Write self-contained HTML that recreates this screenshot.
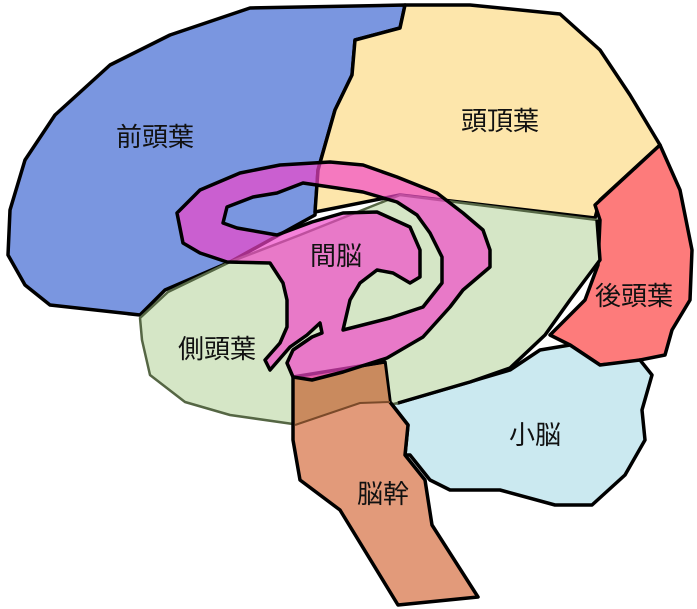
<!DOCTYPE html>
<html><head><meta charset="utf-8"><style>
html,body{margin:0;padding:0;background:#fff;}
svg{display:block;}
text{font-family:"Liberation Sans","Noto Sans CJK JP",sans-serif;font-size:26px;fill:#111;text-anchor:middle;}
</style></head><body>
<svg width="697" height="609" viewBox="0 0 697 609">
<g stroke="#000" stroke-width="3.5" stroke-linejoin="round">
<polygon fill="#7a96e0" points="405,5 250,8 170,35 110,65 55,115 25,160 10,210 8,255 25,285 50,305 140,315 165,290 230,262 315,215 318,170 335,110 352,75 355,40 400,28"/>
<polygon fill="#fde6ab" points="405,5 470,5 560,14 600,50 630,95 660,145 600,200 595,218 400,195 315,212 318,170 335,110 352,75 355,40 400,28"/>
<polygon fill="#fd7b7b" points="660,145 680,190 692,250 690,300 672,330 665,355 630,362 600,365 570,345 550,335 585,300 598,265 600,220 595,205"/>
<polygon fill="#cbe9f0" points="398,403 510,370 540,350 570,345 600,365 640,360 652,375 642,410 645,440 625,475 592,505 555,505 500,490 450,490 430,480 410,455 405,455 408,425 390,402"/>
<polygon fill="#d5e6c6" stroke="#556644" stroke-width="2.5" points="140,318 168,292 230,262 300,235 400,195 597,220 600,260 570,300 545,335 510,368 470,382 398,403 300,425 230,415 185,402 150,375 142,340"/>
<polyline fill="none" points="597,220 600,260 570,300 545,335 510,368 470,382 398,403"/>
<polygon fill="#e29a7a" points="293,377 385,362 390,402 408,425 405,455 425,480 432,525 478,597 398,605 340,510 300,480 293,440"/>
<polygon fill="#c98a5e" stroke="none" points="295,379 384,364 389,402 360,403 295,425"/>
<polyline fill="none" stroke="#7a4a2a" stroke-width="2" points="295,425 360,403 390,402"/>
<path fill="rgb(240,70,200)" fill-opacity="0.68" fill-rule="evenodd" d="M177,213 L183,243 L200,253 L227,262 L270,263 L283,283 L287,300 L287,327 L280,343 L265,360 L270,370 L290,347 L307,335 L320,323 L322,333 L312,337 L293,350 L287,363 L293,377 L312,380 L343,372 L387,358 L423,337 L450,307 L463,290 L490,267 L490,250 L483,230 L463,213 L437,193 L397,177 L363,165 L330,162 L280,165 L240,173 L200,190 Z
M227,207 L253,197 L277,193 L303,183 L337,188 L363,192 L397,202 L417,215 L430,233 L442,257 L442,283 L423,307 L390,318 L343,330 L350,300 L360,283 L377,270 L393,273 L410,283 L420,277 L420,250 L410,227 L377,212 L343,213 L312,222 L277,235 L237,228 L223,223 Z"/>
</g>
<text x="155" y="146">前頭葉</text>
<text x="500" y="130">頭頂葉</text>
<text x="336" y="265">間脳</text>
<text x="634" y="305">後頭葉</text>
<text x="217" y="358">側頭葉</text>
<text x="535" y="444">小脳</text>
<text x="383" y="503">脳幹</text>
</svg>
</body></html>
